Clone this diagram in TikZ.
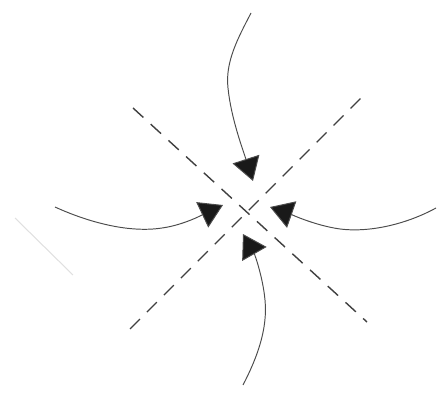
\documentclass[tikz,border=0pt]{standalone}
\usepackage{tikz}
\usetikzlibrary{arrows.meta}

\begin{document}
\begin{tikzpicture}[
  x=0.02cm, y=-0.02cm,
  axis/.style={draw=black!75, line width=0.8pt, dash pattern=on 0.28cm off 0.2cm},
  flow/.style={draw=black!70, line width=0.55pt, -{Triangle[length=4.6mm,width=5.6mm,fill=black!90]}},
  ghost/.style={draw=black!12, line width=0.6pt}
]
\useasboundingbox (0,0) rectangle (440,395);

% axes through the centre
\coordinate (c) at (247,212);
\coordinate (nw) at (133,108);
\coordinate (se) at (367,322);
\coordinate (sw) at (130,329);
\coordinate (ne) at (362,97);
\draw[axis] (nw) -- (se);
\draw[axis] (sw) -- (ne);

% inflowing curves
\coordinate (top) at (251,13);
\coordinate (toptip) at (253,181);
\coordinate (left) at (55,207);
\coordinate (lefttip) at (223,205);
\coordinate (right) at (436,208);
\coordinate (righttip) at (270,207);
\coordinate (bot) at (243,385);
\coordinate (bottip) at (243,234);

\draw[flow] (top) .. controls (238,38) and (225,62) .. (228,88)
  .. controls (231,118) and (243,150) .. (toptip);
\draw[flow] (left) .. controls (90,223) and (130,233) .. (162,228)
  .. controls (184,225) and (204,214) .. (lefttip);
\draw[flow] (right) .. controls (405,225) and (365,234) .. (334,228)
  .. controls (312,224) and (290,214) .. (righttip);
\draw[flow] (bot) .. controls (256,360) and (268,330) .. (265,300)
  .. controls (263,278) and (255,255) .. (bottip);

% faint stroke at the lower left
\coordinate (g1) at (15,218);
\coordinate (g2) at (73,275);
\draw[ghost] (g1) -- (g2);
\end{tikzpicture}
\end{document}
